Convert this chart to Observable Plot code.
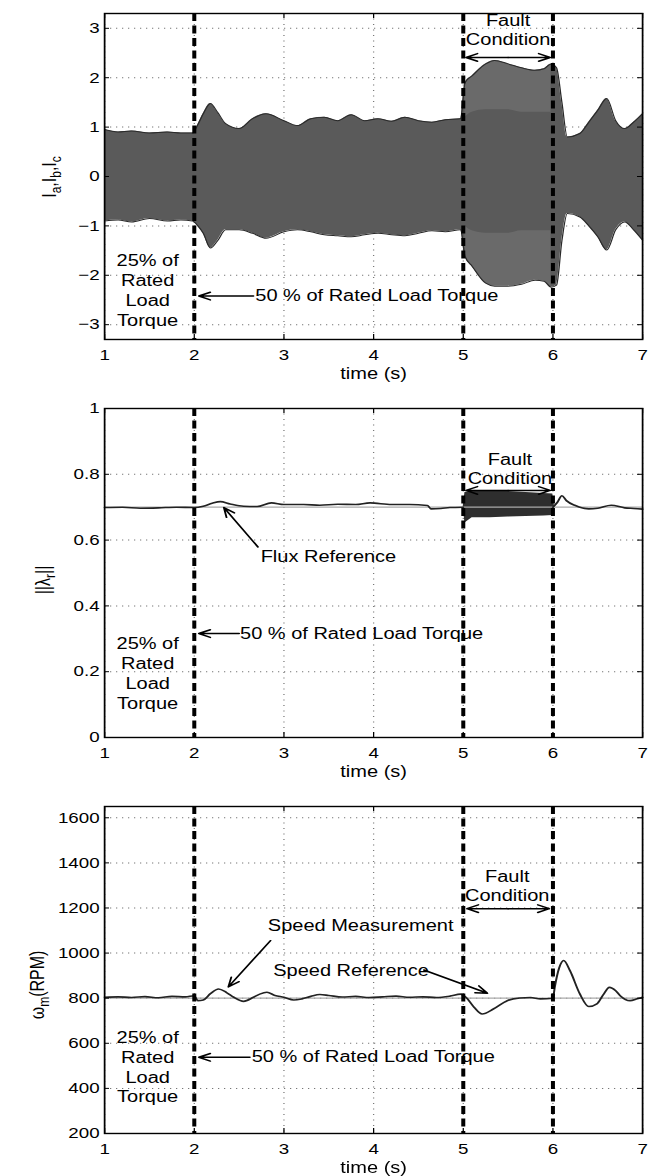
<!DOCTYPE html>
<html><head><meta charset="utf-8">
<script src="https://cdn.jsdelivr.net/npm/d3@7"></script>
<script src="https://cdn.jsdelivr.net/npm/@observablehq/plot@0.6"></script>
<style>
html,body{margin:0;padding:0;background:#fff;}
#wrap{width:523.2px;transform:scaleX(1.25);transform-origin:0 0;}
#wrap svg{display:block;max-width:none;}
</style></head>
<body><div id="wrap"></div>
<script>
// ---------- data ----------
const timeTicks = [1, 2, 3, 4, 5, 6, 7];
const eventTimes = [2, 5, 6];

// Panel 1: stator currents envelope
const curT     = [1.0,1.15,1.3,1.5,1.7,1.85,1.98,2.04,2.1,2.18,2.26,2.35,2.5,2.65,2.8,3.0,3.15,3.3,3.45,3.6,3.75,3.9,4.05,4.2,4.35,4.5,4.65,4.8,4.97,5.02,5.1,5.25,5.35,5.5,5.65,5.8,5.9,5.98,6.04,6.1,6.16,6.3,6.4,6.5,6.6,6.7,6.8,6.9,7.0];
const curUpper = [0.95,0.9,0.92,0.88,0.9,0.88,0.88,1.05,1.27,1.48,1.3,1.07,0.97,1.17,1.27,1.13,1.03,1.17,1.2,1.13,1.25,1.13,1.17,1.12,1.2,1.13,1.1,1.15,1.17,1.9,2.04,2.28,2.35,2.28,2.2,2.15,2.18,2.28,2.2,1.5,0.8,0.87,1.1,1.34,1.58,1.13,0.97,1.1,1.27];
const curLower = [-0.9,-0.88,-0.92,-0.85,-0.9,-0.88,-0.9,-1.0,-1.15,-1.45,-1.3,-1.08,-1.08,-1.15,-1.25,-1.12,-1.08,-1.12,-1.18,-1.2,-1.22,-1.18,-1.15,-1.18,-1.2,-1.15,-1.1,-1.12,-1.08,-1.62,-1.82,-2.16,-2.22,-2.22,-2.18,-2.1,-2.12,-2.24,-2.2,-1.3,-0.75,-0.82,-1.0,-1.22,-1.49,-1.08,-0.92,-1.08,-1.29];
const faultT       = [5.02,5.1,5.25,5.35,5.5,5.65,5.8,5.9,5.98];
const faultInnerUp = [1.2,1.3,1.35,1.35,1.35,1.3,1.3,1.3,1.3];
const faultInnerLo = [-1.0,-1.1,-1.15,-1.15,-1.15,-1.1,-1.1,-1.1,-1.1];
const faultOuterUp = [1.9,2.04,2.28,2.35,2.28,2.2,2.15,2.18,2.28];
const faultOuterLo = [-1.62,-1.82,-2.16,-2.22,-2.22,-2.18,-2.1,-2.12,-2.24];
const curTicks = [-3, -2, -1, 0, 1, 2, 3];

// Panel 2: rotor flux norm
const fluxPreT  = [1.0,1.2,1.4,1.6,1.8,2.0,2.1,2.2,2.29,2.4,2.55,2.7,2.86,3.0,3.22,3.4,3.6,3.8,3.96,4.2,4.4,4.6,4.64,4.75,4.85,5.0];
const fluxPre   = [0.699,0.700,0.697,0.698,0.700,0.699,0.703,0.712,0.717,0.710,0.703,0.702,0.713,0.708,0.708,0.706,0.709,0.708,0.713,0.708,0.708,0.705,0.695,0.696,0.699,0.700];
const fluxBandT  = [5.0,5.02,5.1,5.3,5.5,5.7,5.9,6.0,6.02];
const fluxBandUp = [0.70,0.745,0.75,0.75,0.748,0.745,0.742,0.74,0.70];
const fluxBandLo = [0.70,0.652,0.668,0.668,0.67,0.672,0.673,0.675,0.70];
const fluxPostT = [6.0,6.05,6.1,6.15,6.25,6.4,6.5,6.65,6.8,6.9,7.0];
const fluxPost  = [0.70,0.715,0.735,0.72,0.705,0.695,0.697,0.706,0.698,0.696,0.694];
const fluxRef = 0.7;
const fluxTicks = [0, 0.2, 0.4, 0.6, 0.8, 1];

// Panel 3: rotor speed
const spdT = [1.0,1.15,1.3,1.45,1.6,1.75,1.9,2.0,2.04,2.1,2.18,2.27,2.36,2.44,2.55,2.66,2.73,2.81,2.9,3.0,3.11,3.2,3.3,3.4,3.5,3.65,3.8,3.95,4.1,4.25,4.4,4.55,4.7,4.85,4.97,5.03,5.12,5.21,5.34,5.49,5.63,5.75,5.86,6.0,6.02,6.07,6.12,6.19,6.3,6.4,6.49,6.56,6.63,6.7,6.75,6.86,6.94,7.0];
const spd  = [804,806,803,807,802,808,806,811,789,792,820,841,825,804,786,804,818,826,812,804,792,797,808,816,812,805,808,803,806,809,804,806,803,809,818,804,760,730,753,789,801,803,797,800,848,935,967,922,819,763,775,815,848,833,811,789,797,804];
const spdRef = 800;
const spdTicks = [200, 400, 600, 800, 1000, 1200, 1400, 1600];

// annotations
const p1Notes = [
  {x: 1.48, y: -2.29, t: "25% of\nRated\nLoad\nTorque", a: "middle", lh: 1.25},
  {x: 2.68, y: -2.42, t: "50 % of Rated Load Torque", a: "start", lh: 1},
  {x: 5.5, y: 2.97, t: "Fault\nCondition", a: "middle", lh: 1.17}
];
const p1Arrows = [
  {x1: 2.66, y1: -2.42, x2: 2.05, y2: -2.42},
  {x1: 5.5, y1: 2.41, x2: 5.03, y2: 2.41},
  {x1: 5.5, y1: 2.41, x2: 5.97, y2: 2.41}
];
const p2Notes = [
  {x: 1.48, y: 0.198, t: "25% of\nRated\nLoad\nTorque", a: "middle", lh: 1.25},
  {x: 2.51, y: 0.316, t: "50 % of Rated Load Torque", a: "start", lh: 1},
  {x: 2.74, y: 0.548, t: "Flux Reference", a: "start", lh: 1},
  {x: 5.52, y: 0.818, t: "Fault\nCondition", a: "middle", lh: 1.2}
];
const p2Arrows = [
  {x1: 2.50, y1: 0.316, x2: 2.05, y2: 0.316},
  {x1: 2.71, y1: 0.579, x2: 2.33, y2: 0.699},
  {x1: 5.5, y1: 0.751, x2: 5.03, y2: 0.751},
  {x1: 5.5, y1: 0.751, x2: 5.97, y2: 0.751}
];
const p3Notes = [
  {x: 1.48, y: 497, t: "25% of\nRated\nLoad\nTorque", a: "middle", lh: 1.22},
  {x: 2.64, y: 538, t: "50 % of Rated Load Torque", a: "start", lh: 1},
  {x: 2.82, y: 1122, t: "Speed Measurement", a: "start", lh: 1},
  {x: 2.88, y: 922, t: "Speed Reference", a: "start", lh: 1},
  {x: 5.49, y: 1299, t: "Fault\nCondition", a: "middle", lh: 1.2}
];
const p3Arrows = [
  {x1: 2.62, y1: 538, x2: 2.05, y2: 538},
  {x1: 2.85, y1: 1055, x2: 2.38, y2: 850},
  {x1: 4.56, y1: 925, x2: 5.27, y2: 822},
  {x1: 5.5, y1: 1197, x2: 5.04, y2: 1197},
  {x1: 5.5, y1: 1197, x2: 5.96, y2: 1197}
];

// ---------- layout ----------
const SX = 1.25;
const W = 654 / SX;
const ML = 104 / SX, MR = 12 / SX;
const FONT = '"Liberation Sans", Arial, Helvetica, sans-serif';

const zip = (xs, ...cols) => xs.map((x, i) => ({x, ...Object.fromEntries(cols.map((c, j) => ["v" + j, c[i]]))}));

function notesMarks(notes, arrows) {
  const out = [];
  for (const n of notes) {
    out.push(Plot.text([n], {x: "x", y: "y", text: "t", textAnchor: n.a, lineAnchor: "middle", lineHeight: n.lh, fontSize: 16, fill: "#000"}));
  }
  out.push(Plot.arrow(arrows, {x1: "x1", y1: "y1", x2: "x2", y2: "y2", stroke: "#000", strokeWidth: 1.5, headLength: 10, headAngle: 45}));
  return out;
}

function yLabel(svg, x, y, parts) {
  const t = d3.select(svg).append("text")
    .attr("transform", `translate(${x},${y}) rotate(-90)`)
    .attr("text-anchor", "middle")
    .attr("font-family", FONT)
    .attr("font-size", 16)
    .attr("fill", "#000");
  let shifted = false;
  for (const [s, sub] of parts) {
    const ts = t.append("tspan").text(s);
    if (sub && !shifted) { ts.attr("dy", 4).attr("font-size", 12); shifted = true; }
    else if (!sub && shifted) { ts.attr("dy", -4); shifted = false; }
  }
}

function panel({height, mt, mb, yDomain, yTicks, yFmt, data, notes, ylab, ylabX, ylabY}) {
  const iw = W - ML - MR, ih = height - mt - mb;
  const svg = Plot.plot({
    width: W, height,
    marginTop: mt, marginBottom: mb, marginLeft: ML, marginRight: MR,
    x: {domain: [1, 7]},
    y: {domain: yDomain},
    style: {fontFamily: FONT, fontSize: "15px", background: "#fff", color: "#000", overflow: "visible"},
    marks: [
      Plot.gridX(timeTicks, {stroke: "#777", strokeOpacity: 1, strokeWidth: 1, strokeDasharray: "1,4.5"}),
      Plot.gridY(yTicks, {stroke: "#777", strokeOpacity: 1, strokeWidth: 1, strokeDasharray: "1,3.8"}),
      ...data,
      ...notes,
      Plot.ruleX(eventTimes, {stroke: "#000", strokeWidth: 3.2, strokeDasharray: "8,4.5"}),
      Plot.tickX(timeTicks, {x: d => d, insetTop: ih - 5, stroke: "#000"}),
      Plot.tickX(timeTicks, {x: d => d, insetBottom: ih - 5, stroke: "#000"}),
      Plot.tickY(yTicks, {y: d => d, insetRight: iw - 4, stroke: "#000"}),
      Plot.tickY(yTicks, {y: d => d, insetLeft: iw - 4, stroke: "#000"}),
      Plot.frame({stroke: "#000", strokeWidth: 1.4}),
      Plot.axisX(timeTicks, {tickSize: 0, tickPadding: 10, label: null}),
      Plot.axisY(yTicks, {tickSize: 0, tickPadding: 4, label: null, tickFormat: yFmt}),
      Plot.text(["time (s)"], {text: d => d, frameAnchor: "bottom", dy: 34, fontSize: 16, lineAnchor: "middle", fill: "#000"})
    ]
  });
  yLabel(svg, ylabX, ylabY, ylab);
  return svg;
}

const wrap = document.getElementById("wrap");

// Panel 1
const curRows = zip(curT, curUpper, curLower);
const faultRows = zip(faultT, faultInnerUp, faultInnerLo, faultOuterUp, faultOuterLo);
wrap.append(panel({
  height: 390, mt: 13, mb: 51, yDomain: [-3.3, 3.3], yTicks: curTicks, yFmt: d3.format("d"),
  data: [
    Plot.areaY(curRows, {x: "x", y1: "v1", y2: "v0", fill: "#5a5a5a", curve: "monotone-x"}),
    Plot.areaY(faultRows, {x: "x", y1: "v0", y2: "v2", fill: "#fff", fillOpacity: 0.1, curve: "monotone-x"}),
    Plot.areaY(faultRows, {x: "x", y1: "v3", y2: "v1", fill: "#fff", fillOpacity: 0.1, curve: "monotone-x"}),
    Plot.lineY(curRows, {x: "x", y: "v0", stroke: "#2a2a2a", strokeWidth: 1, curve: "monotone-x"}),
    Plot.lineY(curRows, {x: "x", y: "v1", stroke: "#2a2a2a", strokeWidth: 1, curve: "monotone-x"})
  ],
  notes: notesMarks(p1Notes, p1Arrows),
  ylab: [["I"], ["a", true], [",I"], ["b", true], [",I"], ["c", true]], ylabX: 45, ylabY: 177
}));

// Panel 2
const fluxBandRows = zip(fluxBandT, fluxBandUp, fluxBandLo);
wrap.append(panel({
  height: 400, mt: 18, mb: 53, yDomain: [0, 1], yTicks: fluxTicks, yFmt: d => d3.format("~g")(d),
  data: [
    Plot.areaY(fluxBandRows, {x: "x", y1: "v1", y2: "v0", fill: "#2e2e2e"}),
    Plot.ruleY([fluxRef], {stroke: "#aaa", strokeWidth: 1.2}),
    Plot.lineY(zip(fluxPreT, fluxPre), {x: "x", y: "v0", stroke: "#222", strokeWidth: 1.6, curve: "monotone-x"}),
    Plot.lineY(zip(fluxPostT, fluxPost), {x: "x", y: "v0", stroke: "#222", strokeWidth: 1.6, curve: "monotone-x"})
  ],
  notes: notesMarks(p2Notes, p2Arrows),
  ylab: [["||λ"], ["r", true], ["||"]], ylabX: 40, ylabY: 190
}));

// Panel 3
wrap.append(panel({
  height: 386, mt: 16, mb: 43, yDomain: [200, 1650], yTicks: spdTicks, yFmt: d3.format("d"),
  data: [
    Plot.ruleY([spdRef], {stroke: "#aaa", strokeWidth: 1.2}),
    Plot.lineY(zip(spdT, spd), {x: "x", y: "v0", stroke: "#222", strokeWidth: 1.6, curve: "monotone-x"})
  ],
  notes: notesMarks(p3Notes, p3Arrows),
  ylab: [["ω"], ["m", true], ["(RPM)"]], ylabX: 35, ylabY: 195
}));
</script>
</body></html>
